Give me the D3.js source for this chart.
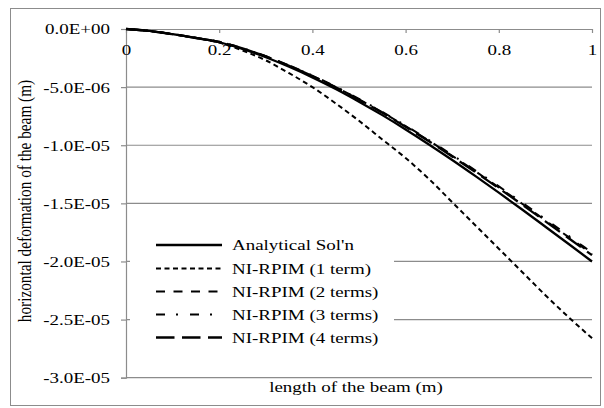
<!DOCTYPE html>
<html>
<head>
<meta charset="utf-8">
<script src="https://cdn.jsdelivr.net/npm/d3@7/dist/d3.min.js"></script>
<style>
  html, body { margin: 0; padding: 0; background: #fff; }
  svg { display: block; }
</style>
</head>
<body>
<svg id="chart" width="604" height="408"></svg>
<script>
// Beam length positions (m)
const positions = [0, 0.05, 0.1, 0.15, 0.2, 0.25, 0.3, 0.35, 0.4, 0.45, 0.5,
                   0.55, 0.6, 0.65, 0.7, 0.75, 0.8, 0.85, 0.9, 0.95, 1.0];

// Horizontal deformation (m) for each solution
const analytical = [0, -0.17e-6, -0.45e-6, -0.78e-6, -1.14e-6, -1.72e-6, -2.43e-6, -3.25e-6, -4.16e-6, -5.16e-6, -6.25e-6,
                    -7.41e-6, -8.64e-6, -9.93e-6, -11.27e-6, -12.66e-6, -14.08e-6, -15.53e-6, -17.01e-6, -18.50e-6, -20.00e-6];
const rpim1 = [0, -0.17e-6, -0.45e-6, -0.78e-6, -1.17e-6, -1.85e-6, -2.70e-6, -3.80e-6, -5.00e-6, -6.40e-6, -7.90e-6,
               -9.50e-6, -11.10e-6, -12.90e-6, -14.90e-6, -16.90e-6, -18.90e-6, -20.90e-6, -22.90e-6, -24.80e-6, -26.60e-6];
const rpim2 = [0, -0.17e-6, -0.44e-6, -0.76e-6, -1.10e-6, -1.66e-6, -2.35e-6, -3.15e-6, -4.03e-6, -5.00e-6, -6.05e-6,
               -7.17e-6, -8.36e-6, -9.61e-6, -10.91e-6, -12.25e-6, -13.63e-6, -15.03e-6, -16.47e-6, -17.91e-6, -19.36e-6];
const rpim3 = [0, -0.16e-6, -0.43e-6, -0.75e-6, -1.10e-6, -1.65e-6, -2.34e-6, -3.13e-6, -4.00e-6, -4.96e-6, -6.01e-6,
               -7.13e-6, -8.31e-6, -9.55e-6, -10.84e-6, -12.18e-6, -13.54e-6, -14.94e-6, -16.36e-6, -17.80e-6, -19.24e-6];
const rpim4 = [0, -0.17e-6, -0.44e-6, -0.76e-6, -1.11e-6, -1.67e-6, -2.36e-6, -3.16e-6, -4.05e-6, -5.02e-6, -6.08e-6,
               -7.21e-6, -8.41e-6, -9.66e-6, -10.97e-6, -12.32e-6, -13.70e-6, -15.11e-6, -16.55e-6, -18.00e-6, -19.46e-6];

const seriesNames = ["Analytical Sol'n", "NI-RPIM (1 term)", "NI-RPIM (2 terms)", "NI-RPIM (3 terms)", "NI-RPIM (4 terms)"];

// Axis ticks and their labels
const xTicks = [0, 0.2, 0.4, 0.6, 0.8, 1];
const xTickLabels = ["0", "0.2", "0.4", "0.6", "0.8", "1"];
const yTicks = [0, -5e-6, -1e-5, -1.5e-5, -2e-5, -2.5e-5, -3e-5];
const yTickLabels = ["0.0E+00", "-5.0E-06", "-1.0E-05", "-1.5E-05", "-2.0E-05", "-2.5E-05", "-3.0E-05"];

const xTitle = "length of the beam (m)";
const yTitle = "horizontal deformation of the beam (m)";

const svg = d3.select("#chart");
const plot = { left: 126, right: 592, top: 29, bottom: 377.7 };
const axisGrey = "#8c8c8c";
const fontSize = 15.3;
const widen = 1.24;          // the chart's type is set wide
const serif = "Liberation Serif";

function serifText(sel) {
  return sel.style("font-family", serif).style("font-size", fontSize + "px").attr("fill", "#000");
}

// Outer chart frame
svg.append("rect")
  .attr("x", 10.5).attr("y", 8.5)
  .attr("width", 590).attr("height", 397)
  .attr("fill", "#fff").attr("stroke", axisGrey).attr("stroke-width", 1);

const x = d3.scaleLinear().domain([0, 1]).range([plot.left, plot.right]);
const y = d3.scaleLinear().domain([0, -3e-5]).range([plot.top, plot.bottom]);

// Horizontal gridlines
svg.append("g")
  .selectAll("line")
  .data(yTicks.slice(1))
  .join("line")
  .attr("x1", plot.left).attr("x2", plot.right)
  .attr("y1", d => y(d)).attr("y2", d => y(d))
  .attr("stroke", axisGrey).attr("stroke-width", 1.2);

// Y axis (left)
const yAxis = d3.axisLeft(y)
  .tickValues(yTicks)
  .tickSize(5)
  .tickPadding(11)
  .tickFormat((d, i) => yTickLabels[i]);
const gy = svg.append("g").attr("transform", `translate(${plot.left},0)`).call(yAxis);
gy.select(".domain").attr("stroke", axisGrey).attr("stroke-width", 1.2);
gy.selectAll(".tick line").attr("stroke", axisGrey).attr("stroke-width", 1.2);
serifText(gy.selectAll(".tick text"))
  .attr("x", -16 / widen)
  .attr("transform", `scale(${widen},1)`);

// X axis along the zero line, ticks pointing down
const xAxis = d3.axisBottom(x)
  .tickValues(xTicks)
  .tickSizeInner(4)
  .tickSizeOuter(0)
  .tickPadding(11)
  .tickFormat((d, i) => xTickLabels[i]);
const gx = svg.append("g").attr("transform", `translate(0,${plot.top})`).call(xAxis);
gx.select(".domain").attr("stroke", axisGrey).attr("stroke-width", 1.2);
gx.selectAll(".tick line").attr("stroke", axisGrey).attr("stroke-width", 1.2);
serifText(gx.selectAll(".tick text"))
  .attr("transform", `scale(${widen},1)`);

// Series line styles
const styles = [
  { data: analytical, dash: null, width: 2.3 },
  { data: rpim1, dash: "5,3.5", width: 2 },
  { data: rpim2, dash: "9,8.5", width: 2 },
  { data: rpim3, dash: "9,11,2,12", width: 2 },
  { data: rpim4, dash: "18.5,7.5", width: 2.3 }
];

const line = d3.line()
  .x((d, i) => x(positions[i]))
  .y(d => y(d))
  .curve(d3.curveMonotoneX);

const gLines = svg.append("g");
styles.slice().reverse().forEach(s => {
  gLines.append("path")
    .datum(s.data)
    .attr("d", line)
    .attr("fill", "none")
    .attr("stroke", "#000")
    .attr("stroke-width", s.width)
    .attr("stroke-dasharray", s.dash);
});

// Legend with white background
const legend = svg.append("g");
legend.append("rect")
  .attr("x", 130).attr("y", 230)
  .attr("width", 264).attr("height", 120)
  .attr("fill", "#fff");
const legRows = [245, 268.5, 291.5, 314.5, 337.5];
styles.forEach((s, i) => {
  legend.append("line")
    .attr("x1", 156).attr("x2", 222)
    .attr("y1", legRows[i]).attr("y2", legRows[i])
    .attr("stroke", "#000")
    .attr("stroke-width", s.width)
    .attr("stroke-dasharray", s.dash);
  serifText(legend.append("text"))
    .attr("transform", `translate(232,${legRows[i]}) scale(${widen},1)`)
    .attr("dy", "0.33em")
    .text(seriesNames[i]);
});

// Axis titles
serifText(svg.append("text"))
  .attr("transform", `translate(356,392) scale(${widen},1)`)
  .attr("text-anchor", "middle")
  .text(xTitle);

serifText(svg.append("text"))
  .attr("transform", `translate(31,201) scale(${widen},1) rotate(-90)`)
  .attr("text-anchor", "middle")
  .text(yTitle);
</script>
</body>
</html>
